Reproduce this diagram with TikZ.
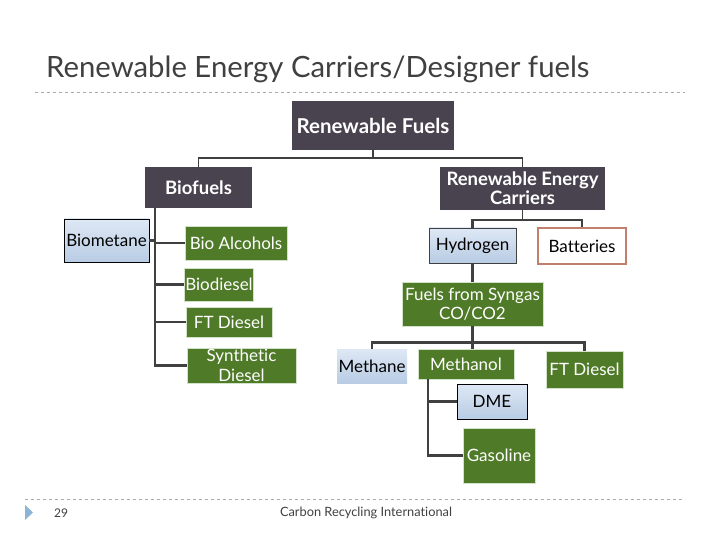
\documentclass[tikz,border=0pt]{standalone}
\usepackage{fontspec}
\setmainfont{Lato}[Ligatures={NoCommon}]
\definecolor{72_67_79}{RGB}{72, 67, 79}
\definecolor{79_122_40}{RGB}{79, 122, 40}
\definecolor{222_232_245}{RGB}{222, 232, 245}
\definecolor{184_204_228}{RGB}{184, 204, 228}
\definecolor{192_128_109}{RGB}{192, 128, 109}
\definecolor{64_64_64}{RGB}{64, 64, 64}
\definecolor{170_170_170}{RGB}{170, 170, 170}
\definecolor{140_180_215}{RGB}{140, 180, 215}
\definecolor{210_226_200}{RGB}{210, 226, 200}

\begin{document}
\begin{tikzpicture}[
        x=1pt, y=-1pt,
        every node/.style={align=center, inner sep=1pt},
        darkbox/.style={
            fill=72_67_79,
            text=white,
            font=\fontsize{18.5}{19}\selectfont\bfseries
        },
        greenbox/.style={
            fill=79_122_40,
            draw=210_226_200,
            line width=0.8pt,
            text=white,
            font=\fontsize{17}{19.5}\selectfont
        },
        bluebox/.style={
            top color=222_232_245,
            bottom color=184_204_228,
            text=black,
            font=\fontsize{17}{19.5}\selectfont
        },
        link/.style={draw=64_64_64, line width=2.2pt},
        rule/.style={draw=170_170_170, dashed, line width=0.6pt}
    ]

    \useasboundingbox (0,0) rectangle (720,540);

    \node[anchor=base west, font=\fontsize{29.3}{31}\selectfont, text=64_64_64] (title) at (45,78) {Renewable Energy Carriers/Designer fuels};
    \draw[rule] (35,92) -- (685,92);

    \node[darkbox, minimum width=162, minimum height=49, font=\fontsize{20.5}{21}\selectfont\bfseries] (rfuels) at (373,125.5) {Renewable Fuels};
    \node[darkbox, minimum width=107, minimum height=41] (biofuels) at (198.5,187.5) {Biofuels};
    \node[darkbox, minimum width=165, minimum height=43] (carriers) at (522.5,188.5) {Renewable Energy\\Carriers};

    \node[bluebox, draw=black, minimum width=85, minimum height=43] (biometane) at (106.5,240.5) {Biometane};
    \node[greenbox, minimum width=102, minimum height=34] (alcohols) at (236,243) {Bio Alcohols};
    \node[greenbox, minimum width=68, minimum height=33] (biodiesel) at (219,284.5) {Biodiesel};
    \node[greenbox, minimum width=86, minimum height=30] (ftdiesel) at (229,322) {FT Diesel};
    \node[greenbox, minimum width=109, minimum height=35] (synthetic) at (241.5,365.5) {Synthetic\\Diesel};

    \node[bluebox, draw=64_64_64, minimum width=87, minimum height=35] (hydrogen) at (472.5,245.5) {Hydrogen};
    \node[draw=192_128_109, line width=1.2pt, fill=white, minimum width=88, minimum height=36, font=\fontsize{17}{19}\selectfont] (batteries) at (582,246) {Batteries};
    \node[greenbox, minimum width=141, minimum height=44] (syngas) at (472.5,304) {Fuels from Syngas\\CO/CO2};

    \node[bluebox, minimum width=70, minimum height=34] (methane) at (372,366) {Methane};
    \node[greenbox, minimum width=96, minimum height=30] (methanol) at (466,364) {Methanol};
    \node[greenbox, minimum width=77, minimum height=37] (ftdieseltwo) at (584.5,369.5) {FT Diesel};
    \node[bluebox, draw=black, minimum width=70, minimum height=35] (dme) at (492,401.5) {DME};
    \node[greenbox, minimum width=72, minimum height=55] (gasoline) at (499,455.5) {Gasoline};

    \coordinate (rf) at ([yshift=-8pt]rfuels.south);
    \draw[link, line width=1.4pt] (rfuels.south) -- (rf);
    \draw[link, line width=1.4pt] (biofuels.north) |- (rf) -| (carriers.north);

    \coordinate (bftrunk) at ([xshift=10pt]biofuels.south west);
    \draw[link] (bftrunk) |- (synthetic.west);
    \draw[link] (biometane.east) -- (biometane.east -| bftrunk);
    \draw[link] (alcohols.west) -- (alcohols.west -| bftrunk);
    \draw[link] (biodiesel.west) -- (biodiesel.west -| bftrunk);
    \draw[link] (ftdiesel.west) -- (ftdiesel.west -| bftrunk);

    \coordinate (rc) at ([yshift=-10pt]carriers.south);
    \draw[link, line width=1.4pt] (carriers.south) -- (rc);
    \draw[link] (hydrogen.north) |- (rc) -| (batteries.north);
    \draw[link] (hydrogen.south) -- (syngas.north);

    \coordinate (sg) at ([yshift=-16pt]syngas.south);
    \draw[link] (syngas.south) -- (syngas.south |- methanol.north);
    \draw[link] (methane.north) |- (sg) -| (ftdieseltwo.north);

    \coordinate (mtrunk) at ([xshift=10pt]methanol.south west);
    \draw[link] (mtrunk) |- (gasoline.west);
    \draw[link] (dme.west) -- (dme.west -| mtrunk);

    \draw[rule] (25,499) -- (685,499);
    \fill[140_180_215] (25,505) -- (33,512.5) -- (25,520) -- cycle;
    \node[font=\fontsize{12}{13}\selectfont, text=64_64_64] (page) at (61,513) {29};
    \node[font=\fontsize{12.8}{14}\selectfont, text=64_64_64] (footer) at (366,513) {Carbon Recycling International};
\end{tikzpicture}
\end{document}
